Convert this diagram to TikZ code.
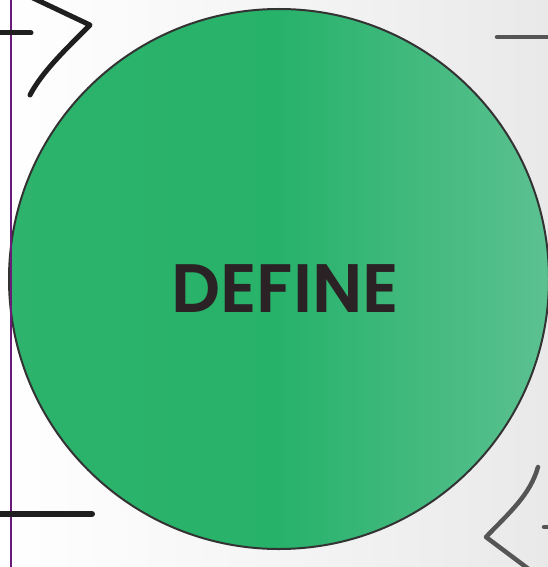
\documentclass[tikz,border=0pt]{standalone}
\usepackage{fontspec}
\newfontfamily\titlefont{Poppins SemiBold}
\definecolor{greenL}{HTML}{2DB36B}
\definecolor{greenM}{HTML}{27B26A}
\definecolor{greenR}{HTML}{5CC191}
\definecolor{bgR}{HTML}{E9E9E9}
\definecolor{purp}{HTML}{6A1B7A}
\definecolor{ink}{HTML}{2A2224}
\definecolor{grayline}{HTML}{555555}
\tikzset{
  blackstroke/.style={line width=5pt, draw=black!88, line cap=round, line join=round},
  graystroke/.style={line width=4.5pt, draw=grayline, line cap=round, line join=round},
}
\begin{document}
\begin{tikzpicture}[x=1pt,y=-1pt]
\useasboundingbox (0,0) rectangle (548,567);
\shade[left color=white, right color=bgR, middle color=white!96!black] (0,0) rectangle (548,567);
% circle
\path[left color=greenL, right color=greenR, middle color=greenM, shading angle=90] (279,279) circle[radius=270];
\node[circle, minimum size=540pt, draw=black!80, line width=2pt, inner sep=0pt] (c) at (279,279) {};
\node[text=ink, inner sep=0pt] (t) at (285,289) {\titlefont\fontsize{68.5}{68}\selectfont DEFINE};
% purple guide line
\coordinate (p1) at (11,0);
\coordinate (p2) at (11,567);
\draw[purp, line width=1.3pt] (p1) -- (p2);
% top-left
\coordinate (a1) at (-5,33);
\coordinate (a2) at (31,33);
\draw[blackstroke] (a1) -- (a2);
\coordinate (b1) at (33,-2);
\coordinate (b2) at (90,25);
\coordinate (b3) at (30,95);
\draw[blackstroke] (b1) -- (b2) .. controls (65,50) and (42,72) .. (b3);
% top-right
\coordinate (d1) at (497,37);
\coordinate (d2) at (555,37);
\draw[graystroke] (d1) -- (d2);
% bottom-left
\coordinate (e1) at (-5,514);
\coordinate (e2) at (92,514);
\draw[blackstroke, line width=6pt] (e1) -- (e2);
% bottom-right
\coordinate (f1) at (538,467);
\coordinate (f2) at (486,537);
\coordinate (f3) at (530,570);
\draw[graystroke] (f1) .. controls (530,495) and (510,512) .. (f2) -- (f3);
\coordinate (g1) at (544,527);
\coordinate (g2) at (555,527);
\draw[graystroke] (g1) -- (g2);
\end{tikzpicture}
\end{document}
